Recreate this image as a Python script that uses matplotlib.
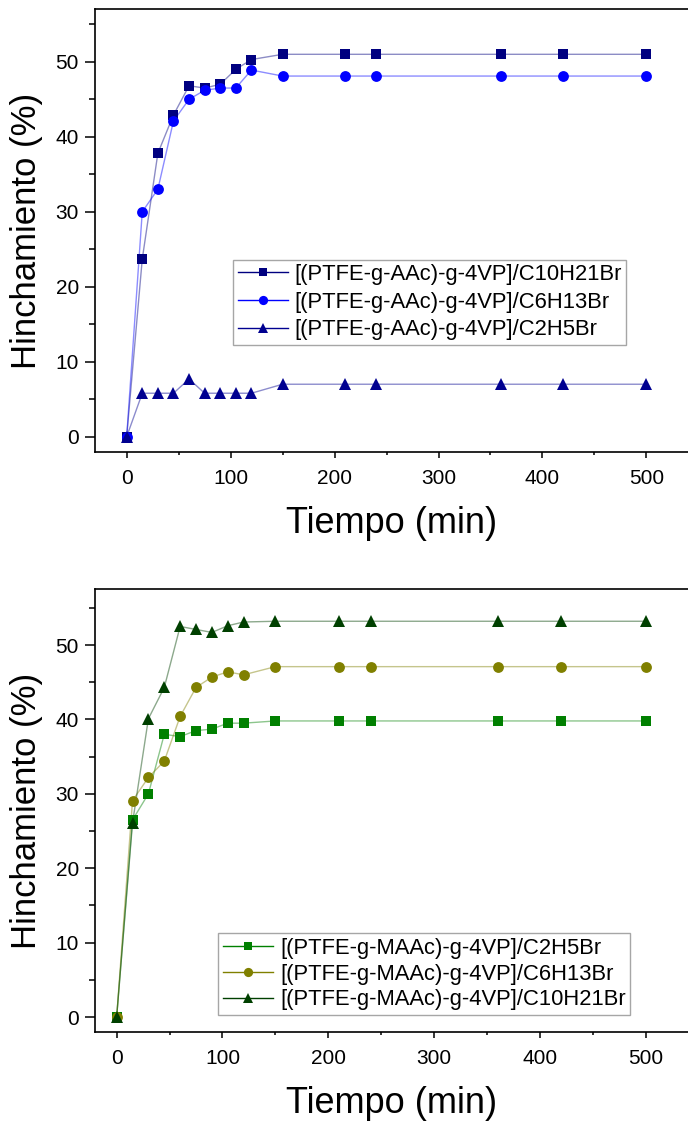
import numpy as np
import matplotlib
matplotlib.use('Agg')
from matplotlib import pyplot as plt
from matplotlib.ticker import MultipleLocator

plt.rcParams['font.family'] = ['Liberation Sans', 'DejaVu Sans']

# tiempo (min), same for every series
tiempo = [0, 15, 30, 45, 60, 75, 90, 105, 120, 150, 210, 240, 360, 420, 500]

# top panel: [(PTFE-g-AAc)-g-4VP]
aac_c10 = [0, 23.7, 37.8, 42.9, 46.8, 46.5, 47.0, 49.0, 50.3, 51.0, 51.0, 51.0, 51.0, 51.0, 51.0]
aac_c6 = [0, 30.0, 33.0, 42.1, 45.0, 46.2, 46.5, 46.5, 48.9, 48.1, 48.1, 48.1, 48.1, 48.1, 48.1]
aac_c2 = [0, 5.8, 5.8, 5.8, 7.7, 5.8, 5.8, 5.8, 5.8, 7.0, 7.0, 7.0, 7.0, 7.0, 7.0]

# bottom panel: [(PTFE-g-MAAc)-g-4VP]
maac_c2 = [0, 26.5, 30.0, 38.0, 37.7, 38.5, 38.7, 39.5, 39.5, 39.8, 39.8, 39.8, 39.8, 39.8, 39.8]
maac_c6 = [0, 29.1, 32.2, 34.4, 40.4, 44.3, 45.7, 46.4, 46.0, 47.1, 47.1, 47.1, 47.1, 47.1, 47.1]
maac_c10 = [0, 26.1, 40.1, 44.3, 52.5, 52.1, 51.7, 52.6, 53.1, 53.2, 53.2, 53.2, 53.2, 53.2, 53.2]

fig = plt.figure(figsize=(6.88, 11.22), dpi=100)
ax1 = fig.add_axes([0.1388, 0.5974, 1 - 0.1388, 0.3943])
ax2 = fig.add_axes([0.1388, 0.0803, 1 - 0.1388, 0.3945])


def serie(ax, y, color, marker, ms, label):
    ax.plot(tiempo, y, color=color, lw=1.0, alpha=0.45, zorder=2)
    ax.plot(tiempo, y, linestyle='none', marker=marker, ms=ms, color=color,
            markeredgewidth=0, zorder=3)
    # legend proxy
    ax.plot([], [], color=color, lw=1.0, marker=marker, ms=ms * 0.85,
            markeredgewidth=0, label=label)


serie(ax1, aac_c10, '#000080', 's', 7.2, '[(PTFE-g-AAc)-g-4VP]/C10H21Br')
serie(ax1, aac_c6, '#0000ff', 'o', 7.8, '[(PTFE-g-AAc)-g-4VP]/C6H13Br')
serie(ax1, aac_c2, '#000090', '^', 9, '[(PTFE-g-AAc)-g-4VP]/C2H5Br')

serie(ax2, maac_c2, '#008000', 's', 7.2, '[(PTFE-g-MAAc)-g-4VP]/C2H5Br')
serie(ax2, maac_c6, '#808000', 'o', 7.8, '[(PTFE-g-MAAc)-g-4VP]/C6H13Br')
serie(ax2, maac_c10, '#004000', '^', 9, '[(PTFE-g-MAAc)-g-4VP]/C10H21Br')

ax1.set_xlim(-30, 540)
ax1.set_ylim(-2, 57)
ax2.set_xlim(-20, 540)
ax2.set_ylim(-2, 57.5)

for ax in (ax1, ax2):
    for s in ('left', 'bottom', 'top'):
        ax.spines[s].set_linewidth(1.2)
    ax.spines['right'].set_visible(False)
    ax.xaxis.set_major_locator(MultipleLocator(100))
    ax.xaxis.set_minor_locator(MultipleLocator(50))
    ax.yaxis.set_major_locator(MultipleLocator(10))
    ax.yaxis.set_minor_locator(MultipleLocator(5))
    ax.tick_params(axis='both', which='both', direction='out', width=1.1, labelsize=15)
    ax.tick_params(axis='y', which='major', length=7, pad=5)
    ax.tick_params(axis='y', which='minor', length=4.3)
    ax.tick_params(axis='x', which='major', length=4.5, pad=8)
    ax.tick_params(axis='x', which='minor', length=2.5)
    ax.set_xlabel('Tiempo (min)', fontsize=26, labelpad=13)
    ax.set_ylabel('Hinchamiento (%)', fontsize=25)
    ax.yaxis.set_label_coords(-0.088, 0.5)

leg_kw = dict(fontsize=15.8, frameon=True, fancybox=False, loc='upper left',
              borderaxespad=0, borderpad=0.2, handlelength=2.3,
              handletextpad=0.3)
lg1 = ax1.legend(bbox_to_anchor=(0.2325, 0.434), labelspacing=0.3, **leg_kw)
lg2 = ax2.legend(bbox_to_anchor=(0.2076, 0.2228), labelspacing=0.22, **leg_kw)
for lg in (lg1, lg2):
    lg.get_frame().set_edgecolor('#909090')
    lg.get_frame().set_linewidth(1.0)

fig.savefig('out.png', dpi=100)
